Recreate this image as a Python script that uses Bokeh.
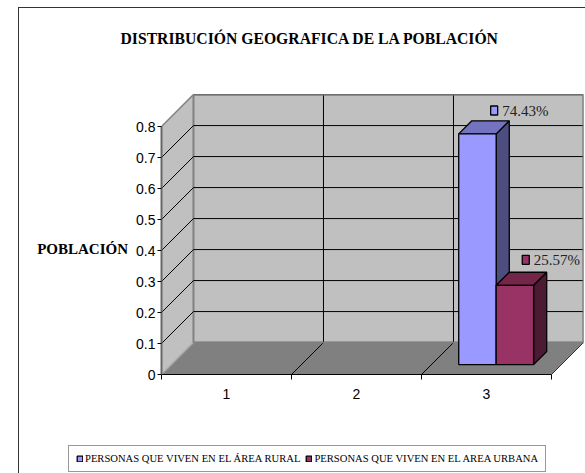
from bokeh.plotting import figure
from bokeh.layouts import column
from bokeh.models import (FixedTicker, Legend, LegendItem, Range1d, InlineStyleSheet)
from bokeh.embed import file_html
from bokeh.resources import INLINE

TITLE = "DISTRIBUCIÓN GEOGRAFICA DE LA POBLACIÓN"
Y_LABEL = "POBLACIÓN"
CATEGORIES = [1, 2, 3]
Y_TICKS = [0, 0.1, 0.2, 0.3, 0.4, 0.5, 0.6, 0.7, 0.8]
RURAL_NAME = "PERSONAS QUE VIVEN EN EL ÁREA RURAL"
URBAN_NAME = "PERSONAS QUE VIVEN EN EL AREA URBANA"
RURAL = [None, None, 0.7443]
URBAN = [None, None, 0.2557]
RURAL_COLOR = "#9999FF"
URBAN_COLOR = "#993366"

# projection of the 3-D box: shift per unit of depth, in data units
DX, DY = 0.246, 0.103
X0, X1 = 0.5, 3.5
Y_MAX = 0.8


def px(x, d):
    return x + d * DX


def py(y, d):
    return y + d * DY


p = figure(width=585, height=440, output_backend="svg", toolbar_location=None,
           x_range=Range1d(0.5, 0.5 + 422 / 130), y_range=Range1d(0, 280 / 310),
           frame_width=422, frame_height=280, frame_align=False,
           min_border_left=161, min_border_right=2, min_border_top=94, min_border_bottom=66,
           background_fill_color=None, border_fill_color="white", outline_line_color=None)
p.grid.visible = False

# walls and floor
p.patch([px(X0, 0), px(X0, 1), px(X0, 1), px(X0, 0)], [py(0, 0), py(0, 1), py(Y_MAX, 1), py(Y_MAX, 0)],
        fill_color="#C0C0C0", line_color=None)
p.quad(left=[px(X0, 1)], right=[px(X1, 1)], bottom=[py(0, 1)], top=[py(Y_MAX, 1)],
       fill_color="#C0C0C0", line_color="#808080", line_width=2)
p.patch([px(X0, 0), px(X1, 0), px(X1, 1), px(X0, 1)], [py(0, 0), py(0, 0), py(0, 1), py(0, 1)],
        fill_color="#808080", line_color=None)

# gridlines: value lines on the side and back walls
gy = Y_TICKS[1:]
p.segment(x0=[px(X0, 0)] * len(gy), y0=[py(v, 0) for v in gy], x1=[px(X0, 1)] * len(gy), y1=[py(v, 1) for v in gy],
          line_color="black", line_width=1)
p.segment(x0=[px(X0, 1)] * len(gy), y0=[py(v, 1) for v in gy], x1=[px(X1, 1)] * len(gy), y1=[py(v, 1) for v in gy],
          line_color="black", line_width=1)
# category lines on the floor and back wall
gx = [c - 0.5 for c in CATEGORIES[1:]]
p.segment(x0=[px(v, 0) for v in gx], y0=[py(0, 0)] * len(gx), x1=[px(v, 1) for v in gx], y1=[py(0, 1)] * len(gx),
          line_color="black", line_width=1)
p.segment(x0=[px(v, 1) for v in gx], y0=[py(0, 1)] * len(gx), x1=[px(v, 1) for v in gx], y1=[py(Y_MAX, 1)] * len(gx),
          line_color="black", line_width=1)
# box edges
p.line([px(X0, 0), px(X0, 1)], [py(Y_MAX, 0), py(Y_MAX, 1)], line_color="#808080", line_width=1.5)
p.line([px(X0, 0), px(X0, 1)], [py(0, 0), py(0, 1)], line_color="#A6A6A6", line_width=1.5)
p.line([px(X1, 0), px(X1, 1)], [py(0, 0), py(0, 1)], line_color="#333333", line_width=1)
p.line([px(X1, 1), px(X1, 1)], [py(0, 1), py(Y_MAX, 1)], line_color="#808080", line_width=2)
p.line([px(X0, 1), px(X1, 1)], [py(Y_MAX, 1), py(Y_MAX, 1)], line_color="#808080", line_width=2)
p.line([px(X0, 1), px(X1, 1)], [py(0, 1), py(0, 1)], line_color="#808080", line_width=1.5)


# bars
BAR_W = 0.288
D_FRONT, D_BACK = 0.31, 0.72


def bar(cat_offset, values, front, top, side):
    lefts, rights, tops = [], [], []
    for c, v in zip(CATEGORIES, values):
        if v is None:
            continue
        lefts.append(c + cat_offset)
        rights.append(c + cat_offset + BAR_W)
        tops.append(v)
    for l, r, t in zip(lefts, rights, tops):
        p.patch([px(r, D_FRONT), px(r, D_BACK), px(r, D_BACK), px(r, D_FRONT)],
                [py(0, D_FRONT), py(0, D_BACK), py(t, D_BACK), py(t, D_FRONT)],
                fill_color=side, line_color="black", line_width=1.3)
        p.patch([px(l, D_FRONT), px(r, D_FRONT), px(r, D_BACK), px(l, D_BACK)],
                [py(t, D_FRONT), py(t, D_FRONT), py(t, D_BACK), py(t, D_BACK)],
                fill_color=top, line_color="black", line_width=1.3)
    p.quad(left=[px(l, D_FRONT) for l in lefts], right=[px(r, D_FRONT) for r in rights],
           bottom=[py(0, D_FRONT)] * len(tops), top=[py(t, D_FRONT) for t in tops],
           fill_color=front, line_color="black", line_width=1.3)


bar(-0.29, RURAL, RURAL_COLOR, "#7373BF", "#4D4D80")
bar(-0.002, URBAN, URBAN_COLOR, "#732649", "#4D1A33")


# data labels with their small keys
def data_label(cat, val, x_key, y_key, color):
    p.rect(x=[cat + x_key], y=[val + y_key], width=7, height=9, width_units="screen", height_units="screen",
           fill_color=color, line_color="black", line_width=1.3)
    p.text(x=[cat + x_key], y=[val + y_key], text=[f"{val * 100:.2f}%"], x_offset=8, text_baseline="middle",
           text_align="left", text_font={"value": "Liberation Serif"}, text_font_size={"value": "15px"},
           text_color="#222222")


data_label(3, RURAL[2], 0.059, 0.1073, RURAL_COLOR)
data_label(3, URBAN[2], 0.302, 0.1143, URBAN_COLOR)

# axes
yax = p.yaxis[0]
yax.ticker = FixedTicker(ticks=Y_TICKS)
yax.bounds = (0, Y_MAX)
yax.major_label_overrides = {0: "0"}
yax.major_label_text_font = "Liberation Sans"
yax.major_label_text_font_size = "14px"
yax.major_label_text_color = "black"
yax.major_tick_in = 0
yax.major_tick_out = 4
yax.major_tick_line_color = "black"
yax.minor_tick_line_color = None
yax.axis_line_color = "#666666"
yax.axis_line_width = 2
yax.major_label_standoff = 2
yax.axis_label = "\n\n" + Y_LABEL
yax.axis_label_orientation = "horizontal"
yax.axis_label_text_font = "Liberation Serif"
yax.axis_label_text_font_style = "bold"
yax.axis_label_text_font_size = "15px"
yax.axis_label_text_color = "black"
yax.axis_label_text_line_height = 0.91
yax.axis_label_standoff = 5

xax = p.xaxis[0]
xax.ticker = FixedTicker(ticks=CATEGORIES, minor_ticks=[c - 0.5 for c in CATEGORIES] + [CATEGORIES[-1] + 0.5])
xax.bounds = (X0, X1)
xax.major_tick_in = 0
xax.major_tick_out = 0
xax.minor_tick_in = 0
xax.minor_tick_out = 5
xax.minor_tick_line_color = "black"
xax.axis_line_color = "black"
xax.axis_line_width = 1
xax.major_label_text_font = "Liberation Sans"
xax.major_label_text_font_size = "14px"
xax.major_label_text_color = "black"
xax.major_label_standoff = 9

# title
p.title.text = TITLE + "\n"
p.title.text_font = "Liberation Serif"
p.title.text_font_style = "bold"
p.title.text_font_size = "15.7px"
p.title.text_color = "black"
p.title.text_line_height = 1.4
p.title.align = "left"
p.title.offset = -41
p.title.standoff = 48

# legend strip under the chart, in its own small figure
q = figure(width=585, height=33, output_backend="svg", toolbar_location=None, frame_align=False,
           x_range=Range1d(0, 1), y_range=Range1d(0, 1), x_axis_type=None, y_axis_type=None,
           min_border=0, background_fill_color="white", border_fill_color="white", outline_line_color=None)
q.grid.visible = False
# the key swatches take their style from these two renderers, which lie outside the strip's range
r_rural = q.quad(left=[2], right=[3], bottom=[2], top=[3], fill_color=RURAL_COLOR, line_color="black", line_width=1.3)
r_urban = q.quad(left=[2], right=[3], bottom=[2], top=[3], fill_color=URBAN_COLOR, line_color="black", line_width=1.3)
legend = Legend(items=[LegendItem(label=RURAL_NAME, renderers=[r_rural]),
                       LegendItem(label=URBAN_NAME, renderers=[r_urban])],
                orientation="horizontal", location=(68, 1),
                label_text_font="Liberation Serif", label_text_font_size="10.6px", label_text_color="black",
                glyph_width=7, glyph_height=7, spacing=5, padding=7, margin=0, label_standoff=2,
                border_line_color="#333333", border_line_width=1, background_fill_color="white",
                background_fill_alpha=1)
q.add_layout(legend, "center")

page = column(p, q, spacing=0)
page.stylesheets = [InlineStyleSheet(css=":host::after{content:'';position:absolute;left:18px;top:7px;right:0;bottom:0;"
                                         "border-left:1.5px solid #333;border-top:1.5px solid #333;pointer-events:none}")]

open("out.html", "w").write(file_html(page, INLINE))
